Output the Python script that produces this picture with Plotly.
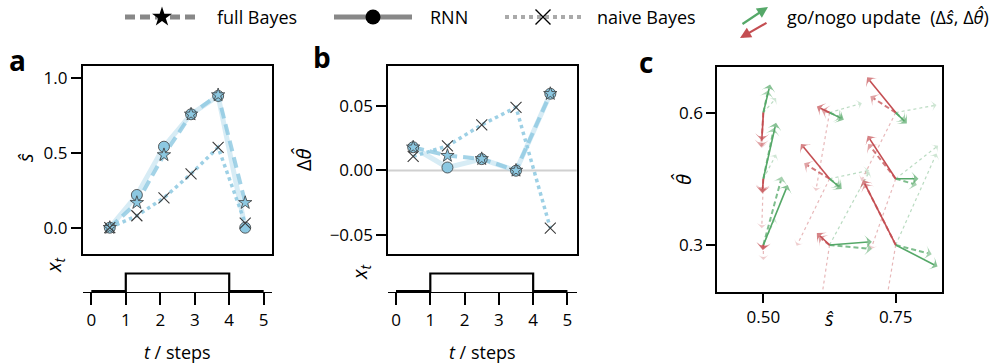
import plotly.graph_objects as go

W, H = 1003, 364
FONT = "Open Sans"
FS = 17

# ---------------- data ----------------
# panel a: s-hat over steps
a_idx = [0, 1, 2, 3, 4, 5]
a_rnn = [0.0, 0.219, 0.542, 0.759, 0.882, 0.0]
a_full = [0.0, 0.167, 0.487, 0.759, 0.888, 0.167]
a_naive = [0.0, 0.08, 0.20, 0.36, 0.538, 0.03]

# panel b: delta theta-hat per step
b_t = [0.5, 1.5, 2.5, 3.5, 4.5]
b_rnn = [0.018, 0.0023, 0.0088, -0.0002, 0.0595]
b_full = [0.018, 0.0115, 0.009, 0.0, 0.0595]
b_naive = [0.0109, 0.019, 0.0354, 0.049, -0.0447]

# stimulus x_t
stim_t = [0, 1, 2, 3, 4, 5]
stim_x = [0, 1, 1, 1, 0, 0]
t_ticks = [0, 1, 2, 3, 4, 5]

# panel c: grid of starting points (s-hat, theta-hat)
c_s0 = [0.5, 0.5, 0.5, 0.625, 0.625, 0.625, 0.75, 0.75, 0.75]
c_th0 = [0.6, 0.45, 0.3, 0.6, 0.45, 0.3, 0.6, 0.45, 0.3]
# go updates (ds, dtheta)
rnn_go_ds = [0.0127, 0.024, 0.046, 0.027, 0.023, 0.080, 0.021, 0.043, 0.079]
rnn_go_dth = [0.0635, 0.127, 0.136, -0.016, -0.023, 0.0075, -0.025, 0.0, -0.049]
full_go_ds = [0.009, 0.020, 0.035, 0.024, 0.020, 0.080, 0.018, 0.040, 0.068]
full_go_dth = [0.050, 0.115, 0.155, -0.013, -0.018, -0.009, -0.020, -0.014, -0.021]
naive_go_ds = [0.024, 0.024, 0.022, 0.061, 0.075, 0.075, 0.077, 0.080, 0.077]
naive_go_dth = [0.033, 0.055, 0.060, 0.021, 0.019, 0.166, 0.017, 0.075, 0.207]
# nogo updates
rnn_nogo_ds = [-0.003, -0.002, -0.001, -0.024, -0.054, -0.024, -0.054, -0.053, -0.062]
rnn_nogo_dth = [-0.0635, -0.033, -0.011, 0.014, 0.079, 0.027, 0.080, 0.0975, 0.147]
full_nogo_ds = [-0.004, -0.002, -0.001, -0.015, -0.048, -0.021, -0.048, -0.052, -0.059]
full_nogo_dth = [-0.078, -0.030, -0.012, 0.006, 0.035, 0.019, 0.037, 0.079, 0.140]
naive_nogo_ds = [-0.003, -0.003, 0.0, -0.026, -0.062, -0.025, -0.065, -0.047, -0.028]
naive_nogo_dth = [-0.080, -0.112, -0.034, -0.178, -0.152, -0.200, -0.155, -0.160, -0.200]

BLUE = "rgb(140,200,225)"
EDGE = "#3a3a3a"
GREEN = "#55A868"
RED = "#C44E52"


def fx(px):
    return px / W


def fy(py):
    return 1 - py / H


fig = go.Figure()


def model_traces(xa, ya, xs, rnn, full, naive):
    common = dict(xaxis=xa, yaxis=ya, showlegend=False, hoverinfo="skip")
    fig.add_trace(go.Scatter(x=xs, y=rnn, mode="lines",
                             line=dict(color="rgba(140,200,225,0.35)", width=5), **common))
    fig.add_trace(go.Scatter(x=xs, y=full, mode="lines",
                             line=dict(color="rgba(140,200,225,0.8)", width=4, dash="11px,6px"), **common))
    fig.add_trace(go.Scatter(x=xs, y=naive, mode="lines",
                             line=dict(color="rgba(140,200,225,0.85)", width=3.5, dash="dot"), **common))
    fig.add_trace(go.Scatter(x=xs, y=rnn, mode="markers",
                             marker=dict(symbol="circle", size=11, color=BLUE, line=dict(color=EDGE, width=0.8)), **common))
    fig.add_trace(go.Scatter(x=xs, y=full, mode="markers",
                             marker=dict(symbol="star", size=10, color=BLUE, line=dict(color=EDGE, width=0.8)), **common))
    fig.add_trace(go.Scatter(x=xs, y=naive, mode="markers",
                             marker=dict(symbol="x-thin", size=11, color=EDGE, line=dict(color=EDGE, width=1.1)), **common))


# panel b zero line
fig.add_shape(type="line", xref="x3 domain", yref="y3", x0=0, x1=1, y0=0, y1=0,
              line=dict(color="#d0d0d0", width=2), layer="below")

model_traces("x", "y", a_idx, a_rnn, a_full, a_naive)
model_traces("x3", "y3", b_t, b_rnn, b_full, b_naive)

for xa, ya in [("x2", "y2"), ("x4", "y4")]:
    fig.add_trace(go.Scatter(x=stim_t, y=stim_x, mode="lines", line=dict(color="black", width=2.2, shape="hv"),
                             xaxis=xa, yaxis=ya, showlegend=False, hoverinfo="skip"))


def arrow_trace(ds, dth, color, dash, width, opacity, head):
    xs, ys, sz = [], [], []
    for s0, t0, a, b in zip(c_s0, c_th0, ds, dth):
        xs += [s0, s0 + a, None]
        ys += [t0, t0 + b, None]
        sz += [0, head, 0]
    fig.add_trace(go.Scatter(x=xs, y=ys, mode="lines+markers",
                             line=dict(color=color, width=width, dash=dash),
                             marker=dict(symbol="arrow-wide", size=sz, angleref="previous", color=color,
                                         line=dict(width=0)),
                             opacity=opacity, xaxis="x5", yaxis="y5", showlegend=False, hoverinfo="skip"))


arrow_trace(naive_go_ds, naive_go_dth, GREEN, "dot", 1.2, 0.4, 7)
arrow_trace(naive_nogo_ds, naive_nogo_dth, RED, "dot", 1.2, 0.4, 7)
arrow_trace(full_go_ds, full_go_dth, GREEN, "5px,3px", 2, 0.75, 10)
arrow_trace(full_nogo_ds, full_nogo_dth, RED, "5px,3px", 2, 0.75, 10)
arrow_trace(rnn_go_ds, rnn_go_dth, GREEN, "solid", 1.6, 1, 10)
arrow_trace(rnn_nogo_ds, rnn_nogo_dth, RED, "solid", 1.6, 1, 10)

# ---------------- legend (overlay axis in pixel units) ----------------
leg = dict(xaxis="x6", yaxis="y6", showlegend=False, hoverinfo="skip")
LY = 17
fig.add_trace(go.Scatter(x=[125, 199], y=[LY, LY], mode="lines", line=dict(color="#888888", width=5, dash="10px,5px"), **leg))
fig.add_trace(go.Scatter(x=[162], y=[LY], mode="markers", marker=dict(symbol="star", size=15, color="black"), **leg))
fig.add_trace(go.Scatter(x=[334, 412], y=[LY, LY], mode="lines", line=dict(color="#888888", width=5), **leg))
fig.add_trace(go.Scatter(x=[373], y=[LY], mode="markers", marker=dict(symbol="circle", size=15, color="black"), **leg))
fig.add_trace(go.Scatter(x=[505, 582], y=[LY, LY], mode="lines", line=dict(color="#aaaaaa", width=4, dash="dot"), **leg))
fig.add_trace(go.Scatter(x=[543], y=[LY], mode="markers",
                         marker=dict(symbol="x-thin", size=15, color="black", line=dict(color="black", width=1.4)), **leg))

ann = []


def text(px, py, s, size=FS, angle=0, xanchor="center", bold=False):
    ann.append(dict(x=fx(px), y=fy(py), xref="paper", yref="paper", text=("<b>%s</b>" % s) if bold else s,
                    showarrow=False, textangle=angle, xanchor=xanchor, yanchor="middle",
                    font=dict(family=FONT, size=size, color="black")))


LS = 18
text(215, LY, "full Bayes", size=LS, xanchor="left")
text(428, LY, "RNN", size=LS, xanchor="left")
text(595, LY, "naive Bayes", size=LS, xanchor="left")
text(785, LY, "go/nogo update  (Δ<i>ŝ</i>, Δ<i>θ\u0302</i>)", size=LS, xanchor="left")
ann.append(dict(x=fx(768), y=fy(7), xref="paper", yref="paper", ax=-27, ay=18, axref="pixel", ayref="pixel",
                text="", showarrow=True, arrowhead=2, arrowsize=1, arrowwidth=2.2, arrowcolor=GREEN))
ann.append(dict(x=fx(740), y=fy(38), xref="paper", yref="paper", ax=28, ay=-16, axref="pixel", ayref="pixel",
                text="", showarrow=True, arrowhead=2, arrowsize=1, arrowwidth=2.2, arrowcolor=RED))

# panel letters
text(17, 60, "a", size=28, bold=True)
text(322, 57, "b", size=28, bold=True)
text(646, 62, "c", size=28, bold=True)

# axis titles
TS = 20
text(25, 158, "<i>ŝ</i>", size=TS, angle=-90)
text(54, 265, "<i>x</i><sub><i>t</i></sub>", size=TS, angle=-90)
text(177, 352, "<i>t</i> / steps", size=18)
text(303, 160, "Δ<i>θ\u0302</i>", size=TS, angle=-90)
text(360, 272, "<i>x</i><sub><i>t</i></sub>", size=TS, angle=-90)
text(482, 352, "<i>t</i> / steps", size=18)
text(683, 179, "<i>θ\u0302</i>", size=TS, angle=-90)
text(829.5, 318, "<i>ŝ</i>", size=TS)

tickfont = dict(family=FONT, size=FS, color="black")
box = dict(showline=True, mirror=True, linecolor="black", linewidth=1.8, showgrid=False, zeroline=False,
           tickfont=tickfont, tickcolor="black", tickwidth=1.8)

fig.update_layout(
    width=W, height=H, margin=dict(l=0, r=0, t=0, b=0),
    paper_bgcolor="white", plot_bgcolor="rgba(0,0,0,0)",
    showlegend=False, annotations=ann,
    xaxis=dict(domain=[fx(82.7), fx(272.3)], range=[-1, 6], showticklabels=False, ticks="", **box),
    yaxis=dict(domain=[fy(254.3), fy(66)], range=[-0.178, 1.082], tickvals=[0, 0.5, 1],
               ticktext=["0.0", "0.5", "1.0"], ticks="outside", ticklen=10, **box),
    xaxis2=dict(domain=[fx(82.7), fx(272.3)], range=[-0.25, 5.25], tickvals=t_ticks, ticks="outside", ticklen=12,
                showline=True, linecolor="black", linewidth=1.2, showgrid=False, zeroline=False,
                tickfont=tickfont, tickcolor="black", tickwidth=2, anchor="y2"),
    yaxis2=dict(domain=[fy(292), fy(270)], range=[-0.05, 1.2], visible=False, anchor="x2"),
    xaxis3=dict(domain=[fx(388.3), fx(576.7)], range=[-0.225, 5.27], showticklabels=False, ticks="",
                anchor="y3", **box),
    yaxis3=dict(domain=[fy(254.3), fy(66)], range=[-0.065, 0.081], tickvals=[-0.05, 0, 0.05],
                ticktext=["\u22120.05", "0.00", "0.05"], ticks="outside", ticklen=10, anchor="x3", **box),
    xaxis4=dict(domain=[fx(388.3), fx(576.7)], range=[-0.225, 5.27], tickvals=t_ticks, ticks="outside", ticklen=12,
                showline=True, linecolor="black", linewidth=1.2, showgrid=False, zeroline=False,
                tickfont=tickfont, tickcolor="black", tickwidth=2, anchor="y4"),
    yaxis4=dict(domain=[fy(292), fy(270)], range=[-0.05, 1.2], visible=False, anchor="x4"),
    xaxis5=dict(domain=[fx(717.3), fx(942.3)], range=[0.413, 0.838], tickvals=[0.5, 0.75],
                ticktext=["0.50", "0.75"], ticks="outside", ticklen=9, anchor="y5", **box),
    yaxis5=dict(domain=[fy(291.7), fy(66.7)], range=[0.194, 0.704], tickvals=[0.3, 0.6],
                ticktext=["0.3", "0.6"], ticks="outside", ticklen=9, anchor="x5", **box),
    xaxis6=dict(domain=[0, 1], range=[0, W], visible=False, anchor="y6", fixedrange=True),
    yaxis6=dict(domain=[fy(40), 1], range=[40, 0], visible=False, anchor="x6", fixedrange=True),
)

fig.write_html("out.html", config={"displayModeBar": False},
               post_script="document.body.style.margin='0';")
